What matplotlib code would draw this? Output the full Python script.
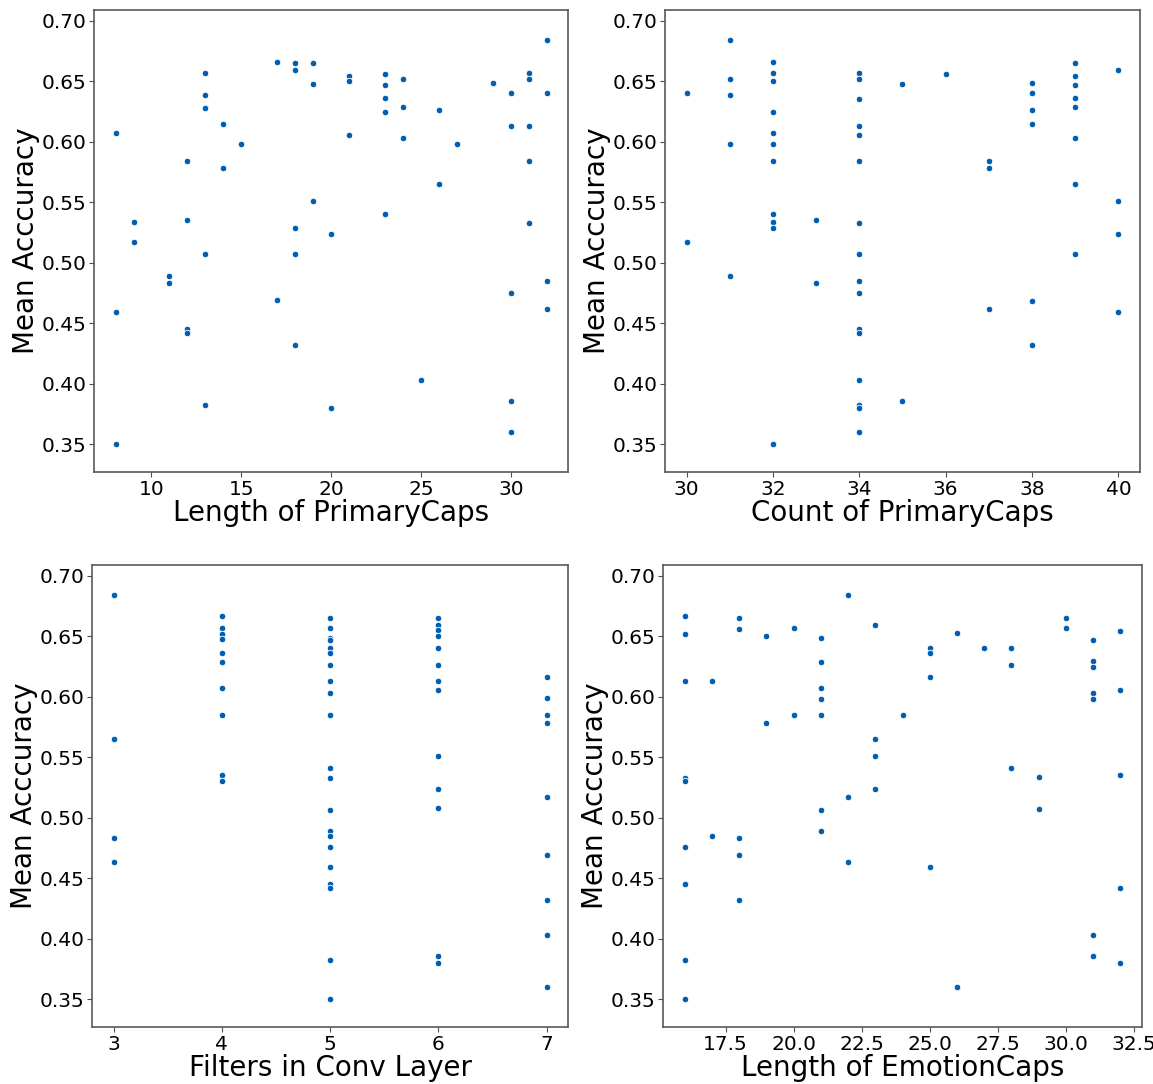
import matplotlib
matplotlib.use("Agg")
import matplotlib.pyplot as plt

#values, one list of x and one of y per panel

len_primary = [8, 8, 8, 9, 9, 11, 11, 12, 12, 12, 12, 13, 13, 13, 13, 13,
               14, 14, 15, 17, 17, 18, 18, 18, 18, 18, 19, 19, 19, 20, 20,
               21, 21, 21, 23, 23, 23, 23, 23, 24, 24, 24, 25, 26, 26, 27, 29,
               30, 30, 30, 30, 30, 31, 31, 31, 31, 31, 32, 32, 32, 32]
acc_len_primary = [0.607, 0.459, 0.350, 0.534, 0.517, 0.489, 0.483,
                   0.584, 0.535, 0.445, 0.442, 0.657, 0.639, 0.628, 0.507, 0.382,
                   0.615, 0.578, 0.598, 0.666, 0.469,
                   0.665, 0.659, 0.529, 0.507, 0.432, 0.665, 0.648, 0.551,
                   0.524, 0.380, 0.654, 0.650, 0.606,
                   0.656, 0.647, 0.636, 0.625, 0.540, 0.652, 0.629, 0.603,
                   0.403, 0.626, 0.565, 0.598, 0.649,
                   0.640, 0.613, 0.475, 0.386, 0.360,
                   0.657, 0.652, 0.613, 0.584, 0.533,
                   0.684, 0.640, 0.485, 0.462]

count_primary = [30, 30, 31, 31, 31, 31, 31,
                 32, 32, 32, 32, 32, 32, 32, 32, 32, 32, 32,
                 33, 33,
                 34, 34, 34, 34, 34, 34, 34, 34, 34, 34, 34, 34, 34, 34, 34, 34,
                 35, 35, 36, 37, 37, 37, 38, 38, 38, 38, 38, 38,
                 39, 39, 39, 39, 39, 39, 39, 39, 40, 40, 40, 40]
acc_count_primary = [0.640, 0.517, 0.684, 0.652, 0.639, 0.598, 0.489,
                     0.666, 0.657, 0.650, 0.625, 0.607, 0.598, 0.584, 0.540, 0.534, 0.529, 0.350,
                     0.535, 0.483,
                     0.657, 0.652, 0.635, 0.613, 0.606, 0.584, 0.533, 0.507,
                     0.485, 0.475, 0.445, 0.442, 0.403, 0.382, 0.380, 0.360,
                     0.648, 0.386, 0.656, 0.584, 0.578, 0.462,
                     0.649, 0.640, 0.626, 0.615, 0.468, 0.432,
                     0.665, 0.654, 0.647, 0.636, 0.629, 0.603, 0.565, 0.507,
                     0.659, 0.551, 0.524, 0.459]

filters = [3, 3, 3, 3,
           4, 4, 4, 4, 4, 4, 4, 4, 4, 4,
           5, 5, 5, 5, 5, 5, 5, 5, 5, 5, 5, 5, 5, 5, 5, 5, 5, 5, 5, 5, 5,
           6, 6, 6, 6, 6, 6, 6, 6, 6, 6, 6, 6, 6,
           7, 7, 7, 7, 7, 7, 7, 7, 7]
acc_filters = [0.684, 0.565, 0.483, 0.463,
               0.667, 0.657, 0.652, 0.648, 0.636, 0.629, 0.607, 0.585, 0.535, 0.530,
               0.665, 0.657, 0.649, 0.647, 0.640, 0.636, 0.626, 0.613, 0.603, 0.585,
               0.541, 0.533, 0.506, 0.489, 0.485, 0.476, 0.459, 0.445, 0.442, 0.382, 0.350,
               0.665, 0.659, 0.655, 0.650, 0.640, 0.626, 0.613, 0.606, 0.551, 0.524,
               0.508, 0.386, 0.380,
               0.616, 0.599, 0.585, 0.578, 0.517, 0.469, 0.432, 0.403, 0.360]

len_emotion = [16, 16, 16, 16, 16, 16, 16, 16, 16, 17, 17, 18, 18, 18, 18, 18,
               19, 19, 20, 20, 21, 21, 21, 21, 21, 21, 21, 22, 22, 22,
               23, 23, 23, 23, 24, 25, 25, 25, 25, 26, 26, 27, 28, 28, 28,
               29, 29, 30, 30, 31, 31, 31, 31, 31, 31, 31, 32, 32, 32, 32, 32]
acc_len_emotion = [0.667, 0.652, 0.613, 0.533, 0.530, 0.476, 0.445, 0.382, 0.350,
                   0.613, 0.485, 0.665, 0.656, 0.483, 0.469, 0.432,
                   0.650, 0.578, 0.657, 0.585,
                   0.649, 0.629, 0.607, 0.598, 0.585, 0.506, 0.489,
                   0.684, 0.517, 0.463, 0.659, 0.565, 0.551, 0.524, 0.585,
                   0.640, 0.636, 0.616, 0.459, 0.653, 0.360, 0.640,
                   0.640, 0.626, 0.541, 0.534, 0.507, 0.665, 0.657,
                   0.647, 0.630, 0.625, 0.603, 0.598, 0.403, 0.386,
                   0.654, 0.606, 0.535, 0.442, 0.380]

panels = [
    (len_primary, acc_len_primary, "Length of PrimaryCaps", [10, 15, 20, 25, 30], None),
    (count_primary, acc_count_primary, "Count of PrimaryCaps", [30, 32, 34, 36, 38, 40], None),
    (filters, acc_filters, "Filters in Conv Layer", [3, 4, 5, 6, 7], None),
    (len_emotion, acc_len_emotion, "Length of EmotionCaps",
     [17.5, 20.0, 22.5, 25.0, 27.5, 30.0, 32.5], "%.1f"),
]

y_ticks = [0.35, 0.40, 0.45, 0.50, 0.55, 0.60, 0.65, 0.70]

fig = plt.figure(figsize=(11.53, 10.84), dpi=100)

#axes boxes in figure fractions, measured on the reference
boxes = [
    [0.0815, 0.5646, 0.4115, 0.4262],
    [0.5767, 0.5646, 0.4120, 0.4262],
    [0.0798, 0.0526, 0.4130, 0.4262],
    [0.5750, 0.0526, 0.4155, 0.4262],
]

for (xs, ys, xlabel, xt, fmt), box in zip(panels, boxes):
    ax = fig.add_axes(box)
    ax.scatter(xs, ys, s=22, color="#005fb3", edgecolors="white", linewidths=0.6, zorder=3)
    ax.set_xlabel(xlabel, fontsize=20, labelpad=0)
    ax.set_ylabel("Mean Acccuracy", fontsize=20, labelpad=1)
    ax.set_xticks(xt)
    if fmt:
        ax.set_xticklabels([fmt % v for v in xt])
    ax.set_yticks(y_ticks)
    ax.set_yticklabels(["%.2f" % v for v in y_ticks])
    ax.set_ylim(0.327, 0.709)
    ax.tick_params(labelsize=14.5, color="0.3", pad=2)
    for sp in ax.spines.values():
        sp.set_color("0.35")
        sp.set_linewidth(1.2)

fig.savefig("out.png", dpi=100)
